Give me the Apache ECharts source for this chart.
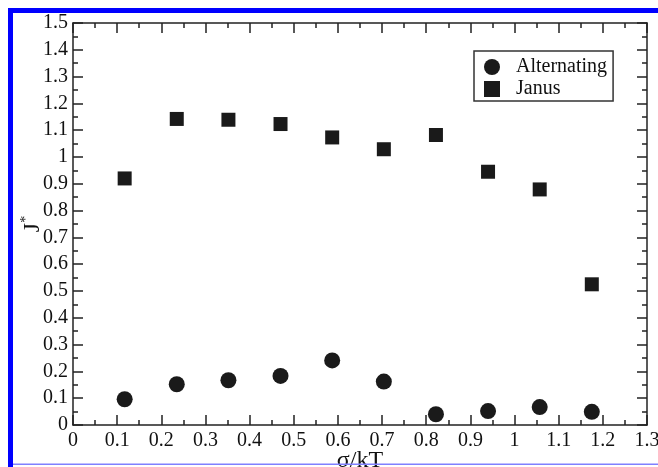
<!DOCTYPE html>
<html>
<head>
<meta charset="utf-8">
<script src="https://cdn.jsdelivr.net/npm/echarts@6/dist/echarts.min.js"></script>
<style>html,body{margin:0;padding:0;background:#fff}#c{width:658px;height:467px}</style>
</head>
<body>
<div id="c"></div>
<script>
const sigma = [0.117, 0.235, 0.352, 0.470, 0.587, 0.704, 0.822, 0.940, 1.057, 1.175];
const alternating = [0.096, 0.152, 0.167, 0.183, 0.241, 0.162, 0.040, 0.052, 0.067, 0.049];
const janus = [0.920, 1.142, 1.139, 1.123, 1.073, 1.029, 1.082, 0.945, 0.879, 0.525];
const xTitle = 'σ/kT';
const seriesNames = ['Alternating', 'Janus'];

const FONT = 'Liberation Serif';
const AX = '#222';
const pairs = (ys) => sigma.map((x, i) => [x, ys[i]]);

const chart = echarts.init(document.getElementById('c'), null, {renderer: 'canvas'});
const tickCommon = {show: true, inside: true, length: 10, lineStyle: {color: AX, width: 1.5}};
const minorCommon = {show: true, splitNumber: 2, length: 5, lineStyle: {color: AX, width: 1.5}};
const lineCommon = {show: true, onZero: false, lineStyle: {color: AX, width: 1.5}};
chart.setOption({
  animation: false,
  backgroundColor: '#fff',
  grid: {left: 73, right: 11, top: 23, bottom: 42, containLabel: false, outerBoundsMode: 'none'},
  xAxis: [{
    type: 'value', min: 0, max: 1.3, interval: 0.1, position: 'bottom',
    axisLine: lineCommon, axisTick: tickCommon, minorTick: minorCommon,
    splitLine: {show: false},
    axisLabel: {fontFamily: FONT, fontSize: 20, color: '#111', margin: 6,
      formatter: v => String(Math.round(v * 10) / 10)},
    name: xTitle, nameLocation: 'middle', nameGap: 24, nameMoveOverlap: false,
    nameTextStyle: {fontFamily: FONT, fontSize: 24, color: '#111'}
  }, {
    type: 'value', min: 0, max: 1.3, interval: 0.1, position: 'top',
    axisLine: lineCommon, axisTick: tickCommon, minorTick: minorCommon,
    splitLine: {show: false}, axisLabel: {show: false}
  }],
  yAxis: [{
    type: 'value', min: 0, max: 1.5, interval: 0.1, position: 'left',
    axisLine: lineCommon, axisTick: tickCommon, minorTick: minorCommon,
    splitLine: {show: false},
    axisLabel: {fontFamily: FONT, fontSize: 20, color: '#111', margin: 5,
      formatter: v => String(Math.round(v * 10) / 10)},
    name: '{j|J}{sup|*}', nameLocation: 'middle', nameGap: 26, nameRotate: 90, nameMoveOverlap: false,
    nameTextStyle: {fontFamily: FONT, fontSize: 24, color: '#111',
      rich: {
        j: {fontFamily: FONT, fontSize: 24, color: '#111'},
        sup: {fontFamily: FONT, fontSize: 14, color: '#111', verticalAlign: 'top', padding: [0, 0, 14, 0]}
      }}
  }, {
    type: 'value', min: 0, max: 1.5, interval: 0.1, position: 'right',
    axisLine: lineCommon, axisTick: tickCommon, minorTick: minorCommon,
    splitLine: {show: false}, axisLabel: {show: false}
  }],
  legend: {
    orient: 'vertical', left: 474, top: 51,
    padding: [6, 6, 2, 10], itemGap: 2, itemWidth: 16, itemHeight: 16,
    borderColor: '#333', borderWidth: 1.5, backgroundColor: '#fff',
    textStyle: {fontFamily: FONT, fontSize: 20, color: '#111', lineHeight: 16, padding: [0, 0, 0, 11]},
    data: [{name: seriesNames[0], icon: 'circle'}, {name: seriesNames[1], icon: 'rect'}]
  },
  series: [{
    name: seriesNames[0], type: 'scatter', symbol: 'circle', symbolSize: 16,
    itemStyle: {color: '#1a1a1a', opacity: 1}, data: pairs(alternating)
  }, {
    name: seriesNames[1], type: 'scatter', symbol: 'rect', symbolSize: 14,
    itemStyle: {color: '#1a1a1a', opacity: 1}, data: pairs(janus)
  }],
  graphic: [
    {type: 'rect', shape: {x: 8, y: 8, width: 650, height: 5}, style: {fill: '#0000ff'}, z: 100},
    {type: 'rect', shape: {x: 8, y: 8, width: 5, height: 459}, style: {fill: '#0000ff'}, z: 100},
    {type: 'rect', shape: {x: 13, y: 463.5, width: 645, height: 1.5}, style: {fill: '#8080ff'}, z: 100}
  ]
});
</script>
</body>
</html>
